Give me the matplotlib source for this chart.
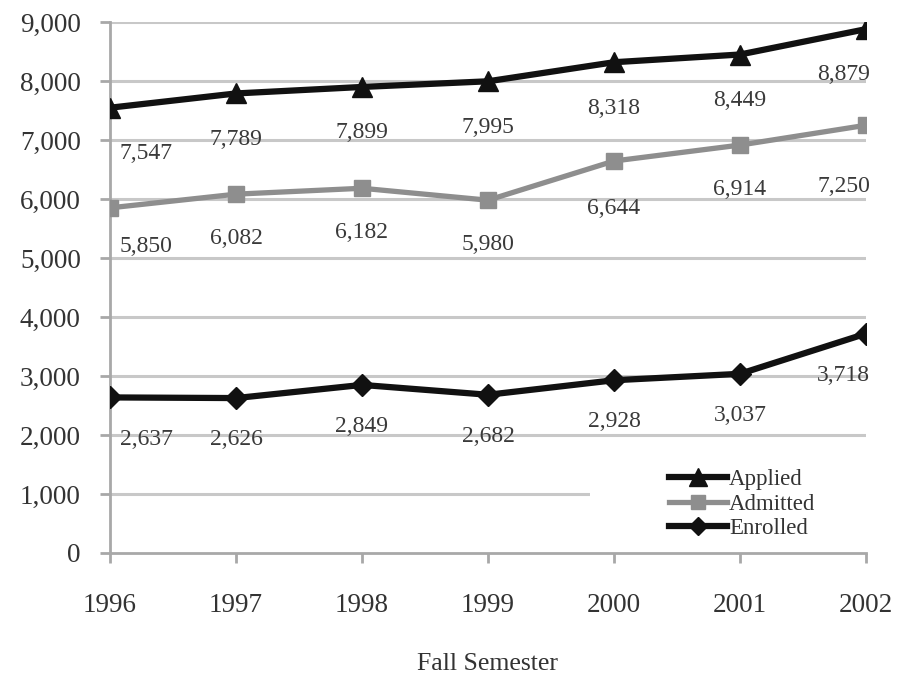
import matplotlib
matplotlib.use("Agg")
import matplotlib.pyplot as plt
from matplotlib.patches import Rectangle

years = ["1996", "1997", "1998", "1999", "2000", "2001", "2002"]
applied = [7547, 7789, 7899, 7995, 8318, 8449, 8879]
admitted = [5850, 6082, 6182, 5980, 6644, 6914, 7250]
enrolled = [2637, 2626, 2849, 2682, 2928, 3037, 3718]
y_ticks = [0, 1000, 2000, 3000, 4000, 5000, 6000, 7000, 8000, 9000]

plt.rcParams['font.family'] = ['Liberation Serif', 'DejaVu Serif']

fig = plt.figure(figsize=(9.09, 6.78), dpi=100)
ax = fig.add_axes([110/909, 1-553/678, (866-110)/909, (553-22)/678])

x = list(range(len(years)))
grid_c = '#c8c8c8'
for v in y_ticks[1:]:
    ax.axhline(v, color=grid_c, lw=2.2, zorder=1)

ax.plot(x, applied, color='#111111', lw=4.5, marker='^', ms=15, zorder=4, label='Applied')
ax.plot(x, admitted, color='#8e8e8e', lw=3.8, marker='s', ms=12, zorder=3, label='Admitted')
ax.plot(x, enrolled, color='#111111', lw=4.5, marker='D', ms=11, zorder=4, label='Enrolled')

def xoff(i):
    if i == 0:
        return 26
    if i == len(years) - 1:
        return -16
    return 0

adm_dy = [-28, -32, -32, -32, -34, -32, -44]
lab_c = '#3a3a3a'
for i in range(len(years)):
    ax.annotate(f"{applied[i]:,}", (x[i], applied[i]), xytext=(xoff(i), -33),
                textcoords='offset points', ha='center', va='center', fontsize=17, color=lab_c, zorder=6)
    ax.annotate(f"{admitted[i]:,}", (x[i], admitted[i]), xytext=(xoff(i), adm_dy[i]),
                textcoords='offset points', ha='center', va='center', fontsize=17, color=lab_c, zorder=6)
    ax.annotate(f"{enrolled[i]:,}", (x[i], enrolled[i]), xytext=(xoff(i), -30),
                textcoords='offset points', ha='center', va='center', fontsize=17, color=lab_c, zorder=6)

ax.set_xlim(0, len(years) - 1)
ax.set_ylim(0, 9000)
ax.set_yticks(y_ticks)
ax.set_yticklabels([f"{v:,}" for v in y_ticks])
ax.set_xticks(x)
ax.set_xticklabels(years)
for s in ['top', 'right']:
    ax.spines[s].set_visible(False)
ax.spines['left'].set_color('#a8a8a8')
ax.spines['left'].set_linewidth(2)
ax.spines['bottom'].set_color('#a8a8a8')
ax.spines['bottom'].set_linewidth(2)
ax.tick_params(axis='both', colors='#a8a8a8', width=2, length=7, labelcolor='#333333', labelsize=19.5)
ax.tick_params(axis='y', pad=14)
ax.tick_params(axis='x', pad=22)
ax.set_xlabel('Fall Semester', fontsize=18.5, color='#333333', labelpad=25)

# white background behind legend
ax.add_patch(Rectangle((590/909, 1-545/678), (880-590)/909, 90/678, transform=fig.transFigure,
                       facecolor='white', edgecolor='none', zorder=2))
leg = fig.legend(loc='center left', bbox_to_anchor=(658/909, 1-504/678), frameon=False,
                 fontsize=16.5, handlelength=2.5, handletextpad=0.1, labelspacing=0.15,
                 borderpad=0, markerscale=0.85)
for t in leg.get_texts():
    t.set_color('#333333')

fig.savefig('out.png', dpi=100)
